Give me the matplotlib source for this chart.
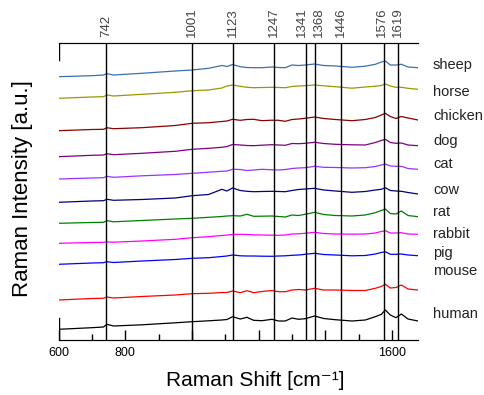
import matplotlib
matplotlib.use('Agg')
import matplotlib.pyplot as plt
import matplotlib.transforms as mtransforms
from matplotlib.ticker import MultipleLocator

plt.rcParams['font.family'] = ['Liberation Sans', 'DejaVu Sans']

# wavenumber grid (cm-1)
shift = [600, 700, 735, 745, 765, 850, 950, 1001, 1050, 1090, 1105, 1122, 1145, 1165,
         1185, 1210, 1240, 1260, 1280, 1300, 1320, 1340, 1368, 1395, 1430, 1480, 1520,
         1550, 1568, 1580, 1595, 1612, 1628, 1648, 1678]

# offset spectra (a.u.)
human = [10.7, 12.3, 13, 15.7, 14, 15.2, 17.2, 18.3, 19.2, 20, 20.5, 23.3, 21, 22.7, 19.7,
         19.3, 20.7, 19, 19, 22, 20.7, 21.3, 24, 21.5, 20.3, 19, 20, 23.3, 25.7, 30, 25,
         22.3, 26, 21, 19]
mouse = [40, 41.5, 41.7, 43, 42, 43.5, 45, 46.3, 46.7, 47.5, 47.5, 49, 47.3, 49.3, 47.3,
         48.5, 49.5, 48.3, 48.3, 50, 50.5, 50, 51.7, 50, 50, 49.5, 49.5, 51.7, 53.5, 55.7,
         52, 52.5, 55, 51, 50]
pig = [75.7, 77, 77.3, 78.3, 77.5, 79, 80.5, 81.7, 82.3, 83.5, 84, 85, 84.2, 84, 84, 83.8,
       83.7, 84, 84.2, 84.7, 85, 85.7, 86.7, 85.5, 85, 84.2, 84.5, 86, 87.5, 88.3, 85.7,
       85.7, 86, 85, 84.3]
rabbit = [96.7, 97.5, 97.7, 98, 97.8, 99, 100.7, 102.3, 103.3, 104.5, 105, 105.5, 105.7,
          105.5, 105.2, 105, 104.8, 104.7, 105, 106, 106.2, 106.7, 107.7, 106.5, 106, 105.8,
          106, 107, 108.5, 109.3, 107, 107, 107.3, 106, 105.7]
rat = [116.7, 117.5, 117.7, 119.3, 118.2, 119.5, 121, 121.7, 122.7, 123.5, 124, 124.3, 124,
       125.7, 123.7, 123.8, 124, 123.5, 123, 125, 124.5, 125.7, 127.7, 125.5, 124.5, 124,
       125, 127.3, 129.5, 131, 126.5, 126, 129, 124.5, 123.3]
cow = [137.7, 139, 139.3, 140.7, 139.7, 140.5, 142, 144.3, 145.5, 150.7, 149, 152, 149.5,
       148.7, 148.3, 148.5, 148.7, 148.5, 148.3, 149.5, 150.5, 151, 151.7, 150, 149, 147.7,
       148.5, 150, 150.7, 152.3, 149.5, 149, 148.7, 147.5, 146]
cat = [161, 162, 162.3, 163.7, 162.7, 164.2, 165.5, 166.7, 167.8, 168.7, 169, 170.7, 170.5,
       169.5, 170, 170.7, 170.2, 170, 170.5, 171.5, 172, 172.3, 173.7, 172.7, 172.5, 172,
       172.3, 173.5, 175, 176, 174, 173.7, 173.7, 171.5, 170.7]
dog = [183.3, 184.7, 185, 186.3, 185.3, 186.7, 188.7, 190.7, 191.7, 192.7, 193.5, 195.5,
       195, 194.5, 194.3, 194.8, 195.3, 195, 194.7, 196.5, 196.3, 196.7, 197.7, 196.5,
       195.7, 195.2, 195, 197.5, 199.5, 200.7, 197.5, 196.7, 197, 195, 194.3]
chicken = [209.3, 210.5, 210.7, 212.3, 211.3, 212.3, 214.5, 216.7, 217.3, 218.5, 219, 220.7,
           219.7, 220.5, 220.7, 219.3, 219.8, 219.7, 218.7, 220.5, 221, 221.7, 223, 221.5,
           220.5, 219.3, 220.5, 222.5, 225, 226.7, 223.5, 221.5, 223.5, 222, 220]
horse = [241.7, 243, 243.3, 245, 244, 245.7, 247.7, 249.3, 250, 252, 254, 255, 253.7, 252.7,
         252.3, 252.5, 252.7, 252.5, 252.3, 253.5, 254, 254.3, 255, 254.2, 253.3, 251.8, 253,
         253.8, 254.5, 256, 254, 252.7, 252.7, 251.7, 250.7]
sheep = [263.3, 264.3, 265, 266.3, 265, 266.7, 269, 270, 271.7, 274.5, 273.5, 275.5, 273.3,
         272.5, 272.3, 272.3, 273, 272.5, 272.3, 275, 274.5, 275, 276, 274.5, 274, 272.7,
         273.8, 275.7, 278, 279, 275, 275, 275.7, 273, 272.3]

names = ['human', 'mouse', 'pig', 'rabbit', 'rat', 'cow', 'cat', 'dog', 'chicken', 'horse', 'sheep']
spectra = [human, mouse, pig, rabbit, rat, cow, cat, dog, chicken, horse, sheep]
colors = ['black', '#ff0000', '#0000ff', '#ff00ff', '#008000', '#000080', '#9933ff',
          '#800080', '#8b0000', '#999900', '#3d6fb0']
label_y = [26, 69, 87, 106, 128, 150, 176, 199, 224, 248, 275]

peaks = [742, 1001, 1123, 1247, 1341, 1368, 1446, 1576, 1619]
label_shift = [0, 0, 0, 0, -4, 4, 0, -2, 0]   # px nudge of the top labels

fig = plt.figure(figsize=(4.84, 3.95), dpi=100)
ax = fig.add_axes([58.5 / 484, 55 / 395, 359.5 / 484, 297 / 395])

for s, c in zip(spectra, colors):
    ax.plot(shift, s, color=c, lw=0.9)

for p in peaks:
    ax.axvline(p, color='black', lw=1.0)

for n, yy in zip(names, label_y):
    ax.text(1723, yy, n, fontsize=10.5, color='#222222', va='center', ha='left', clip_on=False)

ax.set_xlim(600, 1678)
ax.set_ylim(0, 297)
ax.set_yticks([])
ax.spines['right'].set_visible(False)
ax.spines['left'].set_visible(False)
ax.axvline(600, ymin=0, ymax=22 / 297, color='black', lw=1.0)
ax.axvline(600, ymin=1 - 17 / 297, ymax=1, color='black', lw=1.0)

ax.set_xticks([600, 800, 1000, 1200, 1400, 1600])
ax.set_xticklabels(['600', '800', '', '', '', '1600'])
ax.xaxis.set_minor_locator(MultipleLocator(100))
ax.tick_params(axis='x', which='major', direction='in', length=7, width=1, labelsize=9, pad=5)
ax.tick_params(axis='x', which='minor', direction='in', length=4, width=1)

ax2 = ax.twiny()
ax2.set_xlim(ax.get_xlim())
ax2.set_xticks(peaks)
ax2.set_xticklabels([str(p) for p in peaks], rotation=90, fontsize=9.5, color='#444444')
ax2.tick_params(axis='x', length=0, pad=4)
ax2.spines['right'].set_visible(False)
ax2.spines['left'].set_visible(False)
for lab, dx in zip(ax2.get_xticklabels(), label_shift):
    lab.set_transform(lab.get_transform() +
                      mtransforms.ScaledTranslation(dx / 100, 0, fig.dpi_scale_trans))

fig.text(23 / 484, 1 - 189 / 395, 'Raman Intensity [a.u.]', rotation=90, fontsize=16,
         ha='center', va='center')
fig.text(255 / 484, 1 - 380 / 395, 'Raman Shift [cm\u207b\u00b9]', fontsize=15,
         ha='center', va='center')

fig.savefig('out.png', dpi=100)
